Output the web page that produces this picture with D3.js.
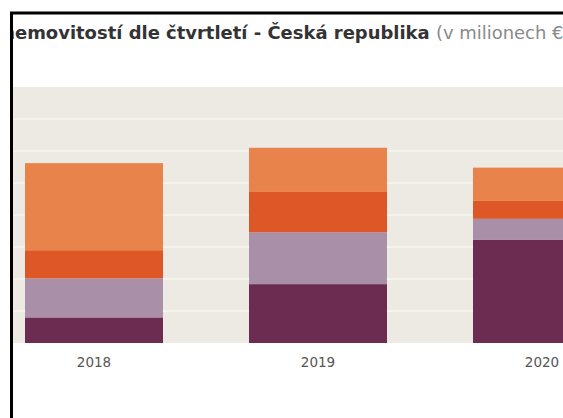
<!DOCTYPE html>
<html>
<head>
<meta charset="utf-8">
<script src="https://cdn.jsdelivr.net/npm/d3@7"></script>
<style>
  html, body { margin: 0; padding: 0; background: #fff; }
  svg { display: block; }
</style>
</head>
<body>
<svg id="chart" width="563" height="418"></svg>
<script>
// values in millions €, stacked bottom → top
const years = ["2018", "2019", "2020"]
const keys  = ["q1", "q2", "q3", "q4"]
const q1 = [400, 920, 1610]
const q2 = [610, 810, 330]
const q3 = [440, 630, 280]
const q4 = [1360, 690, 520]
const gridTicks = [0, 500, 1000, 1500, 2000, 2500, 3000, 3500, 4000]
const colors = ["#6c2b50", "#a98fa8", "#de5726", "#e8834b"]

const svg = d3.select("#chart")
const W = 563, H = 418
const frameX = 13, frameY = 14

const rows = years.map((y, i) => ({ year: y, q1: q1[i], q2: q2[i], q3: q3[i], q4: q4[i] }))
const stack = d3.stack().keys(keys)(rows)

const x = d3.scaleBand().domain(years).range([25, 611]).paddingInner(0.384).paddingOuter(0)
const y = d3.scaleLinear().domain([0, 4000]).range([343, 87])

svg.append("defs").append("clipPath").attr("id", "frame")
  .append("rect").attr("x", frameX).attr("y", frameY).attr("width", W).attr("height", H)

const g = svg.append("g").attr("clip-path", "url(#frame)")

// ── Plot background + grid ─────────────────────
g.append("rect")
  .attr("x", frameX).attr("y", y(4000))
  .attr("width", W).attr("height", y(0) - y(4000))
  .attr("fill", "#ede9e3")

g.append("g").selectAll("line").data(gridTicks.slice(1, -1)).join("line")
  .attr("x1", frameX).attr("x2", W)
  .attr("y1", d => y(d)).attr("y2", d => y(d))
  .attr("stroke", "#f8f6f3").attr("stroke-width", 1.5)

// ── Bars ──────────────────────────────────────
g.append("g").selectAll("g").data(stack).join("g")
  .attr("fill", (_, i) => colors[i])
  .selectAll("rect").data(d => d).join("rect")
  .attr("x", d => x(d.data.year))
  .attr("width", x.bandwidth())
  .attr("y", d => y(d[1]))
  .attr("height", d => y(d[0]) - y(d[1]))

// ── Year labels ───────────────────────────────
g.append("g").selectAll("text").data(years).join("text")
  .attr("x", d => x(d) + x.bandwidth() / 2)
  .attr("y", 367)
  .attr("text-anchor", "middle")
  .attr("font-family", "'DejaVu Sans', sans-serif")
  .attr("font-size", 13.5)
  .attr("fill", "#555")
  .text(d => d)

// ── Title (cropped on the left, as in the source) ──
const title = g.append("text")
  .attr("y", 38.5)
  .attr("font-family", "'DejaVu Sans', sans-serif")
  .attr("font-size", 15)
title.append("tspan").attr("font-weight", "bold").attr("fill", "#333")
  .text("nemovitostí dle čtvrtletí - Česká republika ")
title.append("tspan").attr("fill", "#8a8a8a")
  .text("(v milionech €)")

// fit "emovitostí … €" between the frame edge and the right edge
const node = title.node()
const full = node.getComputedTextLength()
const wN = node.getSubStringLength(0, 1)
const nChars = node.getNumberOfChars()
const wParen = node.getSubStringLength(nChars - 1, 1)
const k = 549 / (full - wN - wParen)
title.attr("font-size", 15 * k)
title.attr("x", 15 - wN * k)

// ── Frame lines ───────────────────────────────
svg.append("line").attr("x1", 10).attr("x2", W).attr("y1", 13).attr("y2", 13)
  .attr("stroke", "#000").attr("stroke-width", 3)
svg.append("line").attr("x1", 11.5).attr("x2", 11.5).attr("y1", 12).attr("y2", H)
  .attr("stroke", "#000").attr("stroke-width", 3)
</script>
</body>
</html>
